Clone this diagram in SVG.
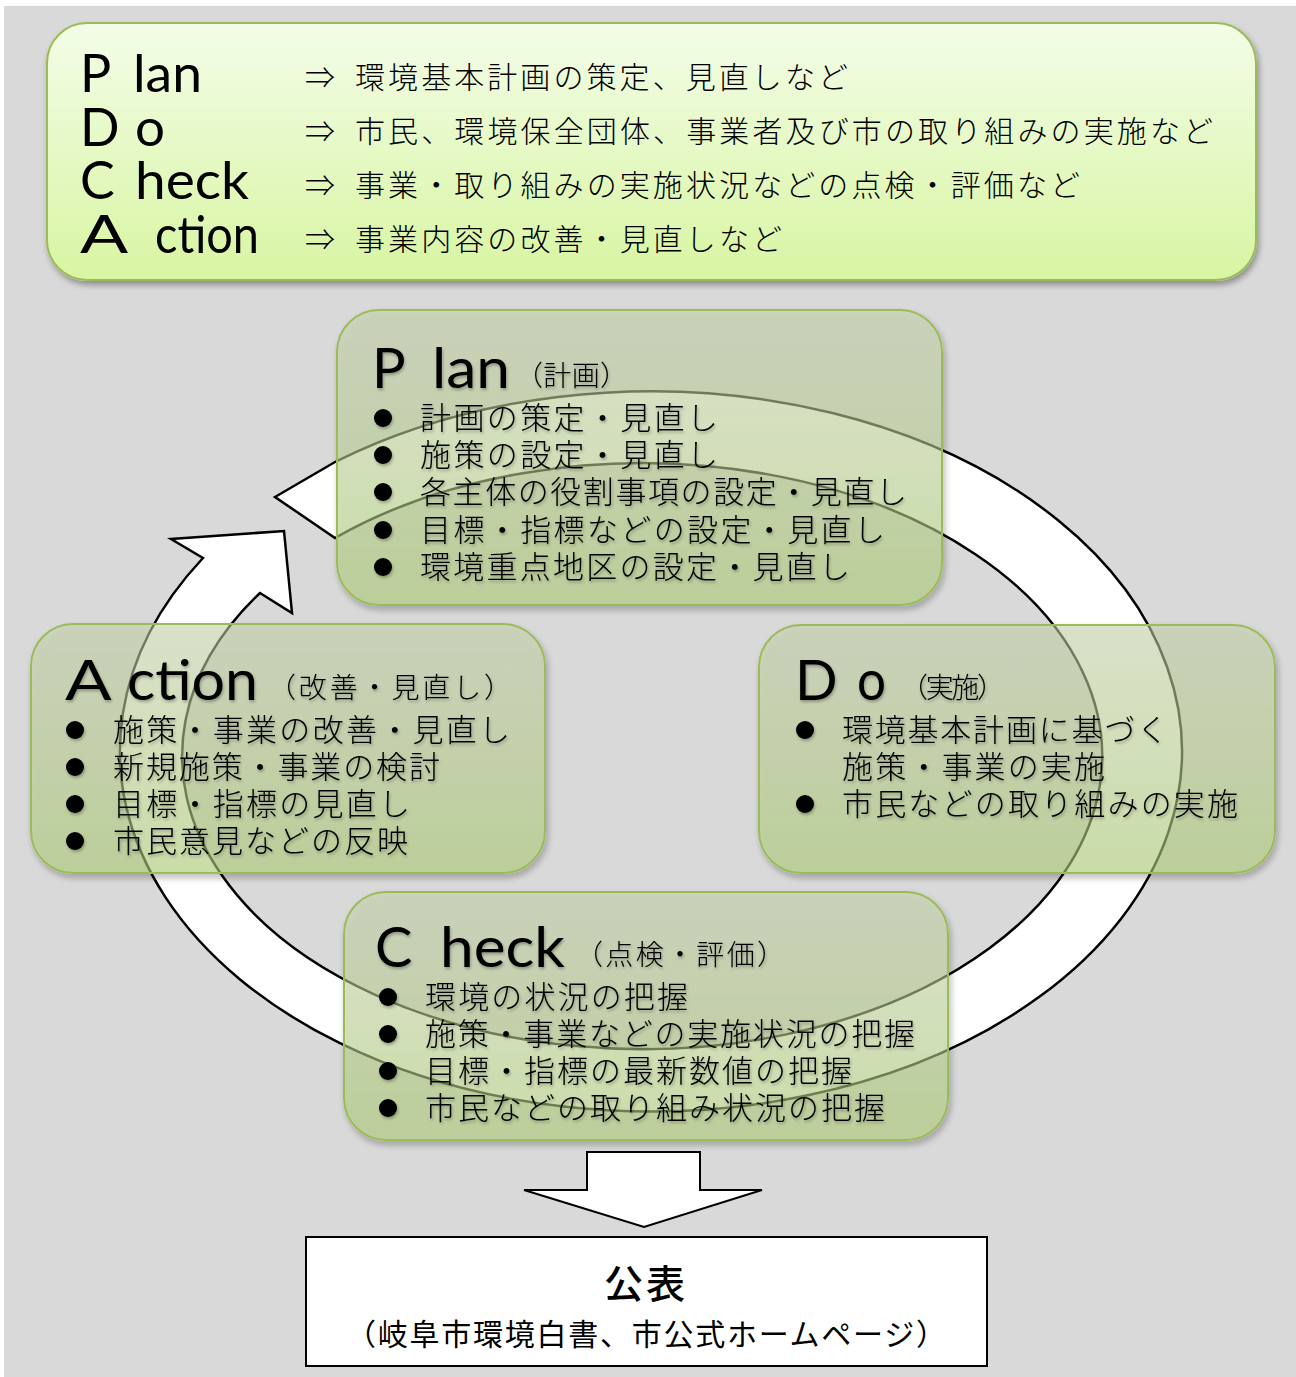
<svg xmlns="http://www.w3.org/2000/svg" width="1296" height="1377" viewBox="0 0 1296 1377">
<defs>
<style>
.jp{font-family:"Noto Sans CJK JP","Noto Sans CJK SC",sans-serif;font-weight:300;fill:#000}
.lat{font-family:"Lato","Liberation Sans",sans-serif;font-weight:400;fill:#000}
.box{fill:url(#boxg);stroke:#9bbb59;stroke-width:2}
.ring{fill:#fff;stroke:#000;stroke-width:2.5;stroke-linejoin:miter}
.bul{fill:#000}
</style>
<linearGradient id="topg" x1="0" y1="0" x2="0" y2="1">
<stop offset="0" stop-color="#f3fde8"/>
<stop offset="1" stop-color="#d8f5a2"/>
</linearGradient>
<linearGradient id="boxg" x1="0" y1="0" x2="0" y2="1">
<stop offset="0" stop-color="#c4d2aa" stop-opacity="0.55"/>
<stop offset="1" stop-color="#afcd78" stop-opacity="0.6"/>
</linearGradient>
<filter id="shadow" x="-5%" y="-5%" width="115%" height="120%">
<feGaussianBlur in="SourceAlpha" stdDeviation="3" result="b"/>
<feOffset in="b" dx="2" dy="4" result="o"/>
<feComposite in="o" in2="SourceAlpha" operator="out" result="s"/>
<feComponentTransfer in="s" result="s2"><feFuncA type="linear" slope="0.35"/></feComponentTransfer>
<feMerge><feMergeNode in="s2"/><feMergeNode in="SourceGraphic"/></feMerge>
</filter>
<filter id="tsh" x="-5%" y="-20%" width="110%" height="150%">
<feGaussianBlur in="SourceAlpha" stdDeviation="1.5" result="b"/>
<feOffset in="b" dx="1" dy="2" result="o"/>
<feComponentTransfer in="o" result="s"><feFuncA type="linear" slope="0.3"/></feComponentTransfer>
<feMerge><feMergeNode in="s"/><feMergeNode in="SourceGraphic"/></feMerge>
</filter>
</defs>
<rect x="0" y="0" width="1296" height="1377" fill="#fff"/>
<rect x="4" y="6" width="1292" height="1371" fill="#d9d9d9"/>

<g id="legend">
<rect x="47" y="23" width="1209" height="257" rx="40" ry="40" fill="url(#topg)" stroke="#9bbb59" stroke-width="2" filter="url(#shadow)"/>
<text class="lat" font-size="52" y="92"><tspan x="80">P </tspan><tspan x="133" textLength="69" lengthAdjust="spacingAndGlyphs">lan</tspan></text>
<text class="lat" font-size="52" y="146"><tspan x="80">D </tspan><tspan x="135" textLength="30" lengthAdjust="spacingAndGlyphs">o</tspan></text>
<text class="lat" font-size="52" y="199"><tspan x="80">C </tspan><tspan x="135" textLength="114" lengthAdjust="spacingAndGlyphs">heck</tspan></text>
<text class="lat" font-size="52" y="253"><tspan x="80" textLength="64" lengthAdjust="spacingAndGlyphs">A </tspan><tspan x="155" textLength="104" lengthAdjust="spacingAndGlyphs">ction</tspan></text>
<g class="jp" font-size="30">
<text x="305" y="88">⇒</text>
<text x="305" y="142">⇒</text>
<text x="305" y="196">⇒</text>
<text x="305" y="250">⇒</text>
<text x="355" y="88" textLength="493" lengthAdjust="spacing">環境基本計画の策定、見直しなど</text>
<text x="355" y="142" textLength="858" lengthAdjust="spacing">市民、環境保全団体、事業者及び市の取り組みの実施など</text>
<text x="355" y="196" textLength="725" lengthAdjust="spacing">事業・取り組みの実施状況などの点検・評価など</text>
<text x="355" y="250" textLength="427" lengthAdjust="spacing">事業内容の改善・見直しなど</text>
</g>
</g>

<g id="connectors">
<path class="ring" d="M275 497 L335 462 A531 360 0 1 1 203 558 L171 539 L284 531 L292 613 L260 593 A460 293 0 1 0 335 538 Z"/>
<polygon points="587,1152 700,1152 700,1190 762,1190 644,1227 524,1190 587,1190" fill="#fff" stroke="#000" stroke-width="2"/>
</g>

<g id="plan">
<rect class="box" x="337" y="310" width="605" height="295" rx="42" ry="42" filter="url(#shadow)"/>
<g filter="url(#tsh)">
<text class="lat" font-size="56" y="388"><tspan x="372">P </tspan><tspan x="432" textLength="78" lengthAdjust="spacingAndGlyphs">lan</tspan></text>
<text class="jp" font-size="28" x="515" y="386" textLength="113" lengthAdjust="spacing">（計画）</text>
<circle class="bul" cx="383" cy="418" r="9"/>
<circle class="bul" cx="383" cy="455" r="9"/>
<circle class="bul" cx="383" cy="492" r="9"/>
<circle class="bul" cx="383" cy="530" r="9"/>
<circle class="bul" cx="383" cy="567" r="9"/>
<g class="jp" font-size="31">
<text x="420" y="429" textLength="298" lengthAdjust="spacing">計画の策定・見直し</text>
<text x="420" y="466" textLength="298" lengthAdjust="spacing">施策の設定・見直し</text>
<text x="420" y="503" textLength="487" lengthAdjust="spacing">各主体の役割事項の設定・見直し</text>
<text x="420" y="541" textLength="465" lengthAdjust="spacing">目標・指標などの設定・見直し</text>
<text x="420" y="578" textLength="430" lengthAdjust="spacing">環境重点地区の設定・見直し</text>
</g>
</g>
</g>

<g id="action">
<rect class="box" x="31" y="624" width="514" height="249" rx="42" ry="42" filter="url(#shadow)"/>
<g filter="url(#tsh)">
<text class="lat" font-size="56" y="700"><tspan x="65" textLength="62" lengthAdjust="spacingAndGlyphs">A </tspan><tspan x="127" textLength="131" lengthAdjust="spacingAndGlyphs">ction</tspan></text>
<text class="jp" font-size="28" x="268" y="698" textLength="244" lengthAdjust="spacing">（改善・見直し）</text>
<circle class="bul" cx="75" cy="730" r="9"/>
<circle class="bul" cx="75" cy="767" r="9"/>
<circle class="bul" cx="75" cy="804" r="9"/>
<circle class="bul" cx="75" cy="841" r="9"/>
<g class="jp" font-size="31">
<text x="113" y="741" textLength="397" lengthAdjust="spacing">施策・事業の改善・見直し</text>
<text x="113" y="778" textLength="327" lengthAdjust="spacing">新規施策・事業の検討</text>
<text x="113" y="815" textLength="297" lengthAdjust="spacing">目標・指標の見直し</text>
<text x="113" y="852" textLength="295" lengthAdjust="spacing">市民意見などの反映</text>
</g>
</g>
</g>

<g id="do">
<rect class="box" x="759" y="625" width="516" height="248" rx="42" ry="42" filter="url(#shadow)"/>
<g filter="url(#tsh)">
<text class="lat" font-size="56" y="700"><tspan x="795">D </tspan><tspan x="857" textLength="29" lengthAdjust="spacingAndGlyphs">o</tspan></text>
<text class="jp" font-size="28" x="900" y="698" textLength="105" lengthAdjust="spacing">（実施）</text>
<circle class="bul" cx="805" cy="730" r="9"/>
<circle class="bul" cx="805" cy="804" r="9"/>
<g class="jp" font-size="31">
<text x="842" y="741" textLength="326" lengthAdjust="spacing">環境基本計画に基づく</text>
<text x="842" y="778" textLength="263" lengthAdjust="spacing">施策・事業の実施</text>
<text x="842" y="815" textLength="396" lengthAdjust="spacing">市民などの取り組みの実施</text>
</g>
</g>
</g>

<g id="check">
<rect class="box" x="344" y="892" width="604" height="248" rx="42" ry="42" filter="url(#shadow)"/>
<g filter="url(#tsh)">
<text class="lat" font-size="56" y="967"><tspan x="375">C </tspan><tspan x="440" textLength="125" lengthAdjust="spacingAndGlyphs">heck</tspan></text>
<text class="jp" font-size="28" x="575" y="965" textLength="210" lengthAdjust="spacing">（点検・評価）</text>
<circle class="bul" cx="388" cy="997" r="9"/>
<circle class="bul" cx="388" cy="1034" r="9"/>
<circle class="bul" cx="388" cy="1071" r="9"/>
<circle class="bul" cx="388" cy="1108" r="9"/>
<g class="jp" font-size="31">
<text x="425" y="1008" textLength="263" lengthAdjust="spacing">環境の状況の把握</text>
<text x="425" y="1045" textLength="490" lengthAdjust="spacing">施策・事業などの実施状況の把握</text>
<text x="425" y="1082" textLength="427" lengthAdjust="spacing">目標・指標の最新数値の把握</text>
<text x="425" y="1119" textLength="460" lengthAdjust="spacing">市民などの取り組み状況の把握</text>
</g>
</g>
</g>

<g id="publish">
<rect x="306" y="1237" width="681" height="129" fill="#fff" stroke="#000" stroke-width="2"/>
<text class="jp" font-size="39" x="646" y="1298" text-anchor="middle" style="font-weight:500;letter-spacing:3px">公表</text>
<text class="jp" font-size="30" x="646" y="1345" text-anchor="middle" textLength="600" lengthAdjust="spacing" style="font-weight:400">（岐阜市環境白書、市公式ホームページ）</text>
</g>
</svg>
